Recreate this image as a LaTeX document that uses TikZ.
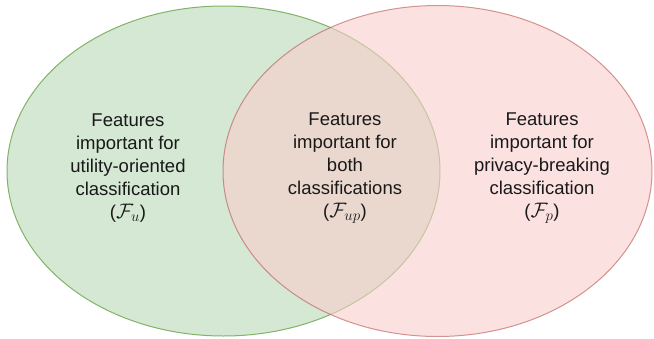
\RequirePackage{fix-cm}
\documentclass[tikz,border=0pt]{standalone}
\usepackage{fontspec}
\setmainfont{Liberation Sans}
\usetikzlibrary{shapes.geometric}
\definecolor{gfill}{HTML}{D5E8D4}
\definecolor{gline}{HTML}{82B366}
\definecolor{rfill}{HTML}{F8CECC}
\definecolor{rline}{HTML}{B85450}
\DeclareMathSizes{18.5}{21}{15}{11}
\tikzset{
  setellipse/.style={ellipse, inner sep=0pt, outer sep=0pt, line width=1pt},
  settext/.style={align=center, font=\fontsize{18.5}{23}\selectfont, text=black!90}
}
\begin{document}
\begin{tikzpicture}[x=1pt,y=-1pt]
\useasboundingbox (0,0) rectangle (654,338);
\node[setellipse, draw=gline, fill=gfill, minimum width=433, minimum height=330] (gset) at (223.5,171) {};
\node[setellipse, draw=rline, fill=rfill, opacity=0.6, minimum width=429, minimum height=331] (rset) at (437.5,171) {};
\node[settext] (tu) at (128,168) {Features\\important for\\utility-oriented\\classification\\($\mathcal{F}_u$)};
\node[settext] (tup) at (345,168) {Features\\important for\\both\\classifications\\($\mathcal{F}_{up}$)};
\node[settext] (tp) at (542,168) {Features\\important for\\privacy-breaking\\classification\\($\mathcal{F}_p$)};
\end{tikzpicture}
\end{document}
